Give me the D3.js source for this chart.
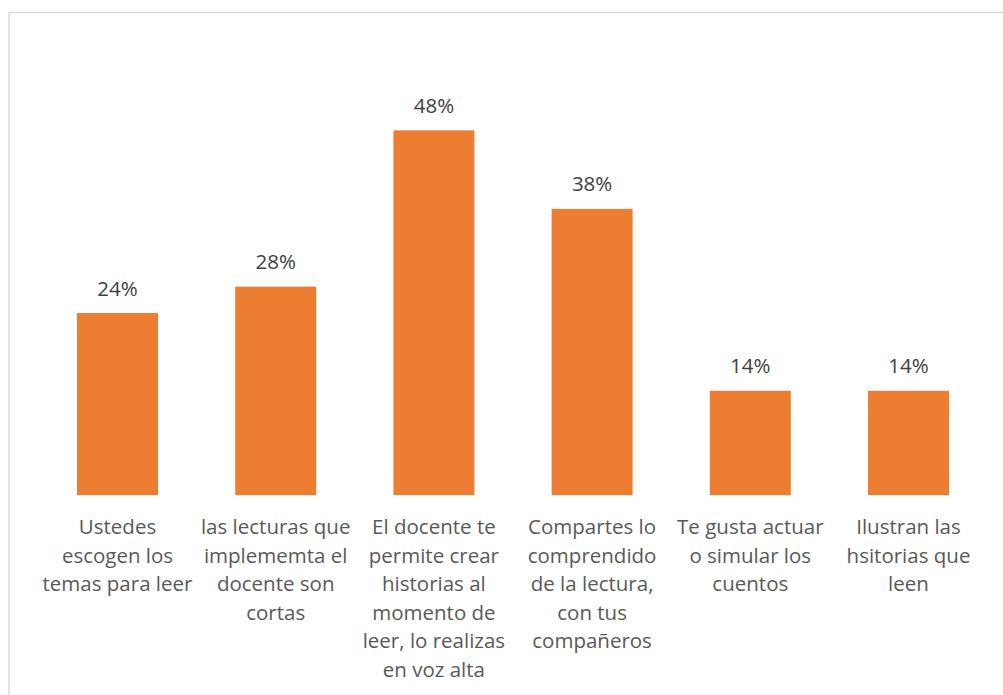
<!DOCTYPE html>
<html>
<head>
<meta charset="utf-8">
<script src="https://cdn.jsdelivr.net/npm/d3@7"></script>
<style>
  body { margin: 0; background: #fff; }
  svg { display: block; }
</style>
</head>
<body>
<div id="chart"></div>
<script>
// survey answers, one entry per bar (lines as wrapped in the original)
const categories = [
  ["Ustedes", "escogen los", "temas para leer"],
  ["las lecturas que", "implememta el", "docente son", "cortas"],
  ["El docente te", "permite crear", "historias al", "momento de", "leer, lo realizas", "en voz alta"],
  ["Compartes lo", "comprendido", "de la lectura,", "con tus", "compañeros"],
  ["Te gusta actuar", "o simular los", "cuentos"],
  ["Ilustran las", "hsitorias que", "leen"]
]
const values = [0.241, 0.276, 0.483, 0.379, 0.138, 0.138]

const width = 1003
const height = 695
const baseline = 495

const svg = d3.select('#chart')
  .append('svg')
  .attr('width', width)
  .attr('height', height)

// chart frame
svg.append('rect')
  .attr('x', 9)
  .attr('y', 12.5)
  .attr('width', 1010)
  .attr('height', 700)
  .style('fill', 'none')
  .style('stroke', '#d9d9d9')
  .style('stroke-width', 1.5)

var x = d3.scaleBand()
  .domain(d3.range(values.length))
  .range([38.4, 987.6])
  .paddingInner(0.488)
  .paddingOuter(0.244)

var y = d3.scaleLinear()
  .domain([0, 0.6])
  .range([baseline, baseline - 453])

svg.selectAll('.bar')
  .data(values)
  .enter().append('rect')
  .attr('class', 'bar')
  .attr('x', function(d, i) { return x(i) })
  .attr('y', function(d) { return y(d) })
  .attr('width', x.bandwidth())
  .attr('height', function(d) { return y(0) - y(d) })
  .style('fill', '#ED7D31')

svg.selectAll('.val')
  .data(values)
  .enter().append('text')
  .attr('class', 'val')
  .attr('x', function(d, i) { return x(i) + x.bandwidth() / 2 })
  .attr('y', function(d) { return y(d) - 17.5 })
  .attr('text-anchor', 'middle')
  .style('font-family', '"Open Sans", sans-serif')
  .style('font-size', '20.5px')
  .style('fill', '#404040')
  .text(function(d) { return Math.round(d * 100) + '%' })

// category labels under the bars
var xAxis = d3.axisBottom(x).tickSize(0).tickFormat('')
svg.append('g')
  .attr('transform', 'translate(0,' + baseline + ')')
  .call(xAxis)
  .call(function(g) { g.select('.domain').remove() })

var cat = svg.selectAll('.cat')
  .data(categories)
  .enter().append('text')
  .attr('class', 'cat')
  .attr('text-anchor', 'middle')
  .style('font-family', '"Open Sans", sans-serif')
  .style('font-size', '20.5px')
  .style('fill', '#595959')

cat.selectAll('tspan')
  .data(function(d, i) { return d.map(function(l) { return {line: l, i: i} }) })
  .enter().append('tspan')
  .attr('x', function(d) { return x(d.i) + x.bandwidth() / 2 })
  .attr('y', function(d, j) { return 534 + j * 28.5 })
  .text(function(d) { return d.line })
</script>
</body>
</html>
